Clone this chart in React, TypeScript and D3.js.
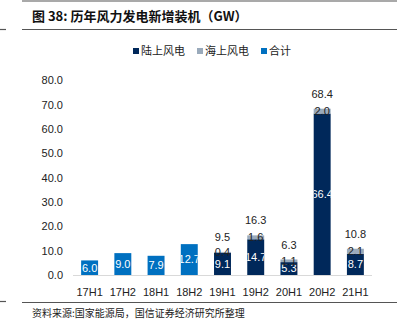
import React from "react";
import * as d3 from "d3";

const categories = ["17H1", "17H2", "18H1", "18H2", "19H1", "19H2", "20H1", "20H2", "21H1"];
const onshore: (number | null)[] = [null, null, null, null, 9.1, 14.7, 5.3, 66.4, 8.7];
const offshore: (number | null)[] = [null, null, null, null, 0.4, 1.6, 1.1, 2.0, 2.1];
const total = [6.0, 9.0, 7.9, 12.7, 9.5, 16.3, 6.3, 68.4, 10.8];
const yTicks = [0, 10, 20, 30, 40, 50, 60, 70, 80];
const legendItems = ["陆上风电", "海上风电", "合计"];

const W = 397;
const H = 331;
const C_ON = "#00285a";
const C_OFF = "#9aaabb";
const C_TOT = "#0070c0";
const NUM_FONT = "'Liberation Sans', Arial, sans-serif";
const CJK_FONT = "'Noto Sans CJK SC', 'Liberation Sans', sans-serif";

export default function App() {
  const x = d3.scaleBand<string>().domain(categories).range([73, 372]).paddingInner(0.49).paddingOuter(0.245);
  const y = d3.scaleLinear().domain([0, 80]).range([275, 80.5]);
  const bw = x.bandwidth();
  const fmt = d3.format(".1f");
  const legendColors = [C_ON, C_OFF, C_TOT];
  const legendX = [133, 197, 261];

  return (
    <svg width={W} height={H} style={{ position: "absolute", left: 0, top: 0 }}>
      <rect width={W} height={H} fill="#fff" />
      <defs>
        {categories.map((c, i) => (
          <clipPath id={`clip${i}`} key={c}>
            <rect x={x(c)!} y={0} width={bw} height={H} />
          </clipPath>
        ))}
      </defs>
      {/* header lines */}
      <line x1={22} x2={W} y1={1} y2={1} stroke="#555" strokeWidth={1.2} />
      <line x1={22} x2={W} y1={29.5} y2={29.5} stroke="#555" strokeWidth={1.2} />
      <line x1={0} x2={6} y1={29.5} y2={29.5} stroke="#555" strokeWidth={1.2} />
      <text x={32} y={21} fontFamily={CJK_FONT} fontWeight="bold" fontSize={13} fill="#111">
        图 38:  历年风力发电新增装机（GW）
      </text>

      {/* legend */}
      {legendItems.map((t, i) => (
        <g key={t}>
          <rect x={legendX[i]} y={48} width={6} height={6} fill={legendColors[i]} />
          <text x={legendX[i] + 8} y={55} fontFamily={CJK_FONT} fontSize={11} fill="#222">
            {t}
          </text>
        </g>
      ))}

      {/* y axis ticks */}
      {yTicks.map((t) => (
        <text key={t} x={63} y={y(t)} dy="0.35em" textAnchor="end" fontFamily={NUM_FONT} fontSize={11} fill="#222">
          {fmt(t)}
        </text>
      ))}

      {/* bars */}
      {categories.map((c, i) => {
        const bx = x(c)!;
        const cx = bx + bw / 2;
        const on = onshore[i];
        const off = offshore[i];
        if (on == null || off == null) {
          const v = total[i];
          return (
            <g key={c}>
              <rect x={bx} y={y(v)} width={bw} height={y(0) - y(v)} fill={C_TOT} />
              <text x={cx} y={(y(v) + y(0)) / 2} dy="0.35em" textAnchor="middle" fontFamily={NUM_FONT} fontSize={11} fill="#fff" clipPath={`url(#clip${i})`}>
                {fmt(v)}
              </text>
            </g>
          );
        }
        return (
          <g key={c}>
            <rect x={bx} y={y(on)} width={bw} height={y(0) - y(on)} fill={C_ON} />
            <rect x={bx} y={y(on + off)} width={bw} height={y(on) - y(on + off)} fill={C_OFF} />
            <text x={cx} y={(y(on) + y(0)) / 2} dy="0.35em" textAnchor="middle" fontFamily={NUM_FONT} fontSize={11} fill="#fff" clipPath={`url(#clip${i})`}>
              {fmt(on)}
            </text>
            <text x={cx} y={(y(on) + y(on + off)) / 2} dy="0.35em" textAnchor="middle" fontFamily={NUM_FONT} fontSize={11} fill="#222">
              {fmt(off)}
            </text>
            <text x={cx} y={y(total[i]) - 15} dy="0.35em" textAnchor="middle" fontFamily={NUM_FONT} fontSize={11} fill="#222">
              {fmt(total[i])}
            </text>
          </g>
        );
      })}

      {/* x axis */}
      <line x1={73} x2={372} y1={275.5} y2={275.5} stroke="#d9d9d9" strokeWidth={1} />
      {categories.map((c) => (
        <text key={c} x={x(c)! + bw / 2} y={292} dy="0.35em" textAnchor="middle" fontFamily={NUM_FONT} fontSize={11} fill="#222">
          {c}
        </text>
      ))}

      {/* footer */}
      <line x1={22} x2={W} y1={302.5} y2={302.5} stroke="#555" strokeWidth={1.2} />
      <line x1={0} x2={6} y1={301.5} y2={301.5} stroke="#555" strokeWidth={1.2} />
      <text x={32} y={317} fontFamily={CJK_FONT} fontSize={10} fill="#222">
        资料来源:国家能源局，国信证券经济研究所整理
      </text>
    </svg>
  );
}
